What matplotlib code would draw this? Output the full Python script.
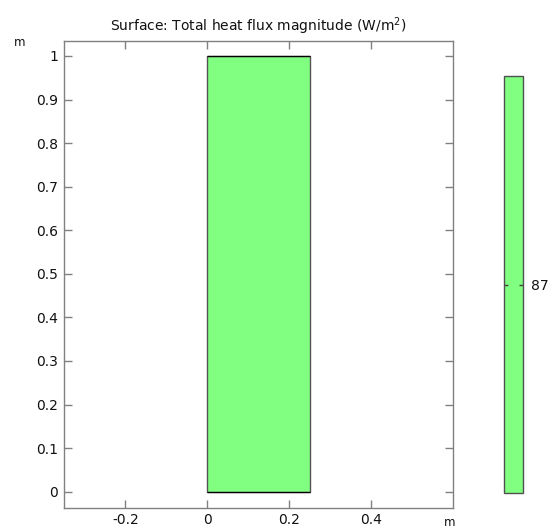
import matplotlib.pyplot as plt
from matplotlib.patches import Rectangle
from matplotlib.colors import ListedColormap, Normalize
from matplotlib.cm import ScalarMappable

# geometry of the domain (m) and the surface value
rect_x = [0.0, 0.25]
rect_y = [0.0, 1.0]
flux_value = 87
x_ticks = [-0.2, 0, 0.2, 0.4]
y_ticks = [0, 0.1, 0.2, 0.3, 0.4, 0.5, 0.6, 0.7, 0.8, 0.9, 1]
cb_ticks = [87]

green = '#80ff80'
gray = '#808080'
txt = '#111111'
W, H = 553, 529

fig = plt.figure(figsize=(W / 100, H / 100), dpi=100)
ax = fig.add_axes([63.5 / W, 1 - 507.7 / H, (453 - 63.5) / W, (507.7 - 40.7) / H])

ax.add_patch(Rectangle((rect_x[0], rect_y[0]), rect_x[1] - rect_x[0], rect_y[1] - rect_y[0],
                       facecolor=green, edgecolor='#555555', linewidth=1))
# top and bottom edges are drawn darker in the original
ax.hlines(rect_y, rect_x[0], rect_x[1], colors='black', linewidth=0.9)
ax.set_xlim(-0.3507, 0.599)
ax.set_ylim(-0.0367, 1.035)
ax.set_xticks(x_ticks)
ax.set_xticklabels(['-0.2', '0', '0.2', '0.4'])
ax.set_yticks(y_ticks)
ax.set_yticklabels([('%g' % v) for v in y_ticks])
ax.tick_params(direction='in', length=6, width=1, color=gray, labelsize=10,
               top=True, right=True, pad=4, labelcolor=txt)
for s in ax.spines.values():
    s.set_color(gray)
    s.set_linewidth(1)

ax.set_title('Surface: Total heat flux magnitude (W/m$^2$)', fontsize=10, color=txt, pad=7)
fig.text(20 / W, 1 - 43 / H, 'm', fontsize=8.5, color=txt, ha='center', va='center')
fig.text(450 / W, 1 - 522 / H, 'm', fontsize=8.5, color=txt, ha='center', va='center')

# colour bar
cax = fig.add_axes([504.3 / W, 1 - 493 / H, (522.7 - 504.3) / W, (493 - 76) / H])
sm = ScalarMappable(norm=Normalize(flux_value - 1, flux_value + 1), cmap=ListedColormap([green]))
cb = fig.colorbar(sm, cax=cax, ticks=cb_ticks)
cb.outline.set_edgecolor('#505050')
cb.outline.set_linewidth(1)
cax.tick_params(direction='in', length=3, width=1, color='#404040', labelsize=10,
                left=True, right=True, labelcolor=txt, pad=6)

fig.savefig('out.png', dpi=100)
